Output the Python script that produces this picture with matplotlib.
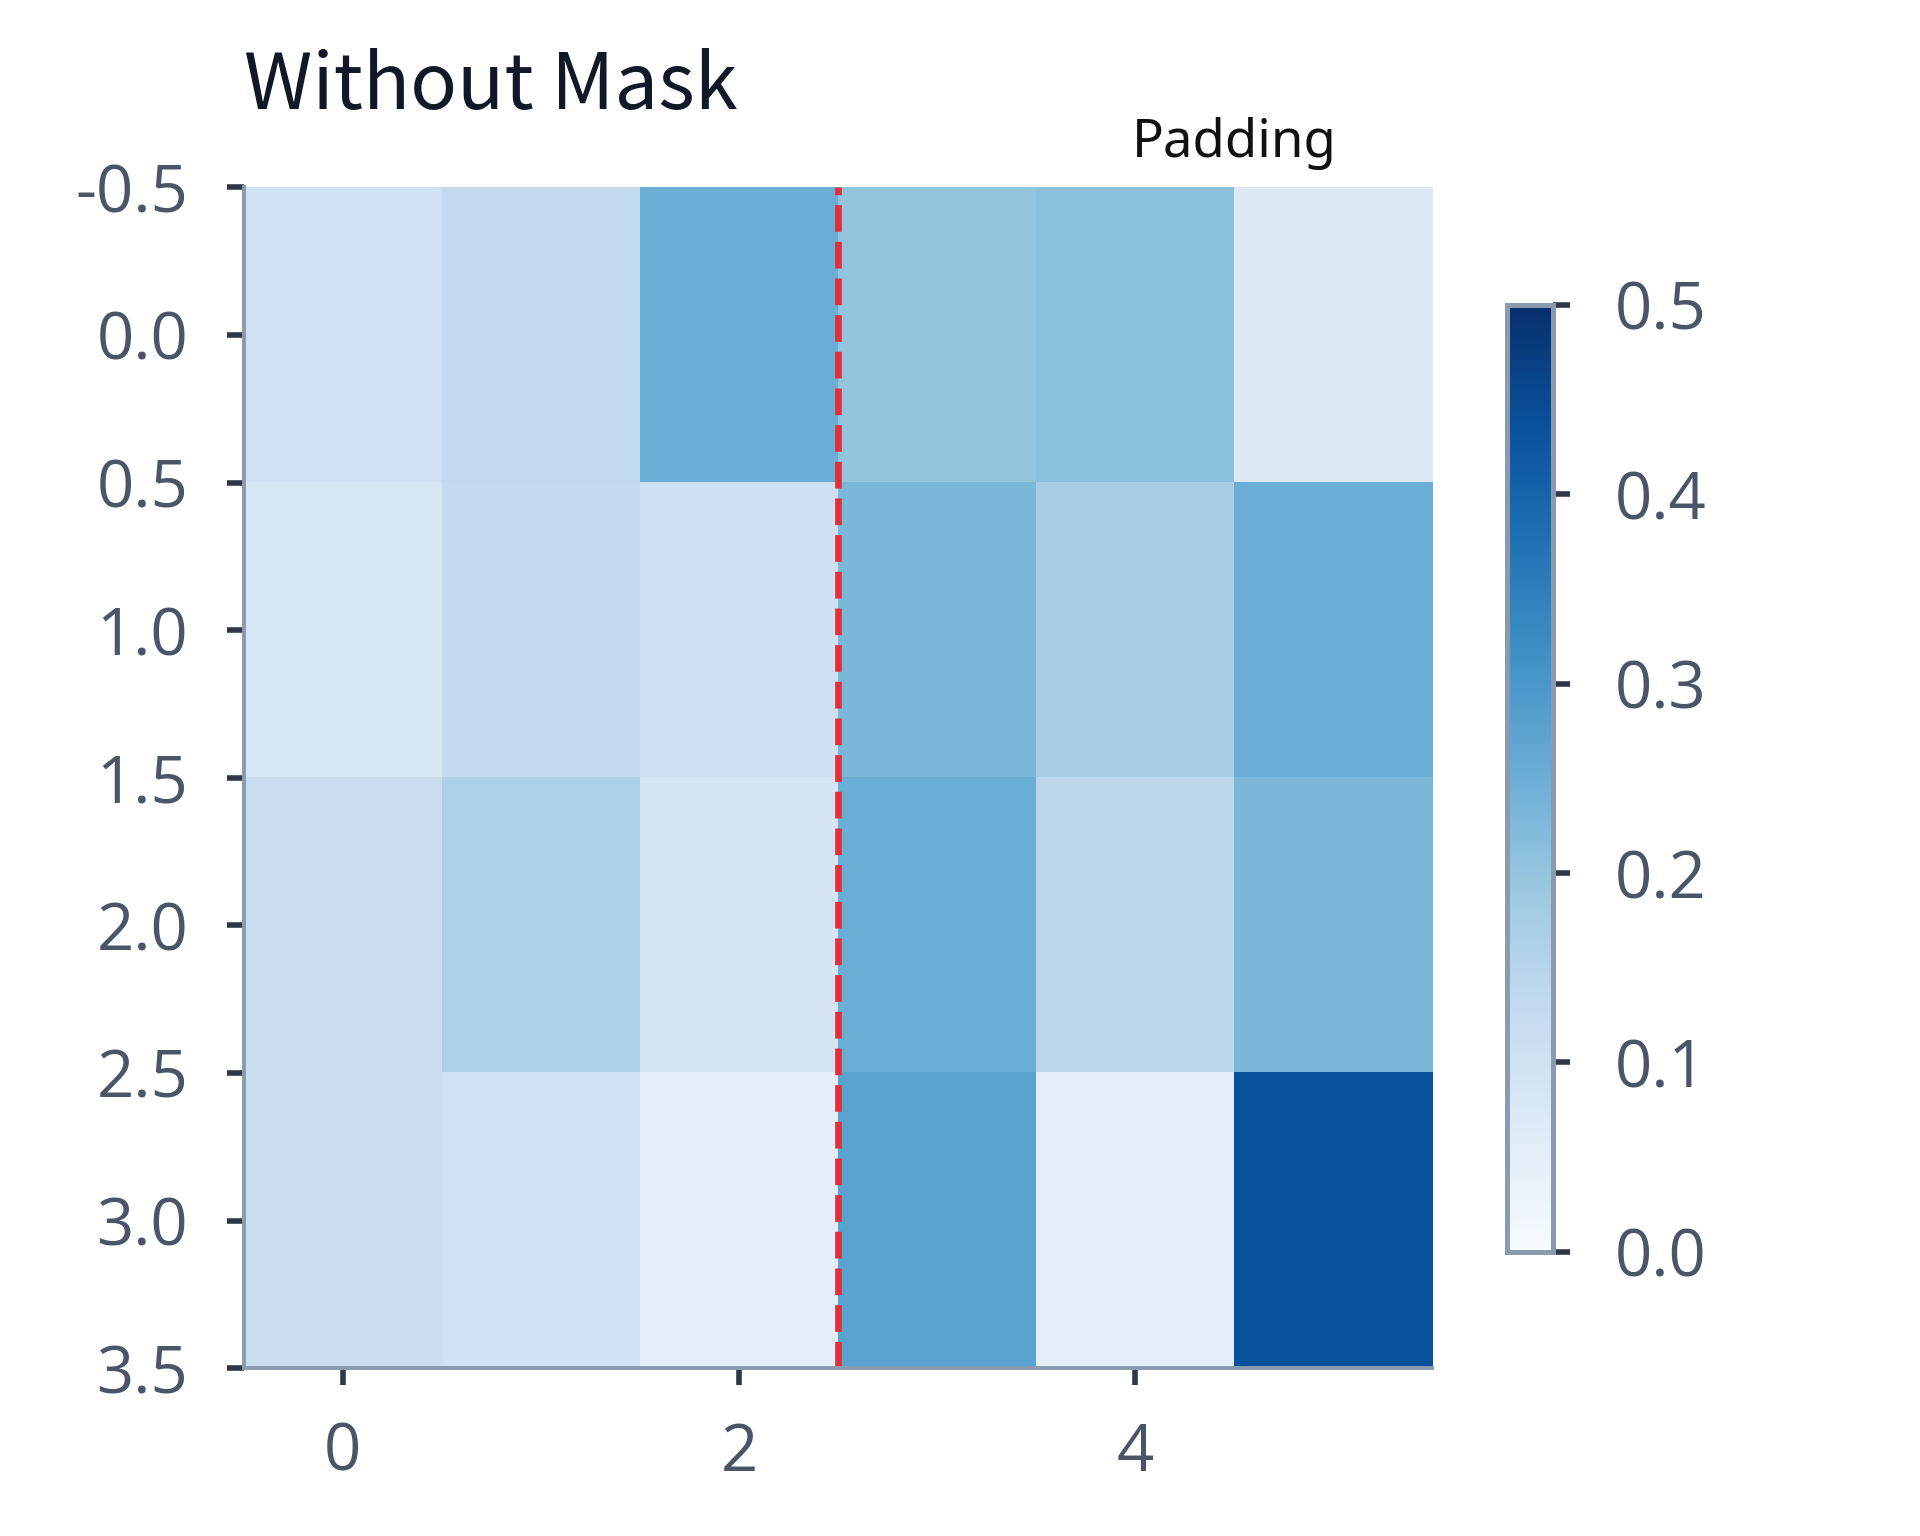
import matplotlib.pyplot as plt
import numpy as np

# attention weights (rows x key positions)
row0 = [0.100, 0.130, 0.250, 0.200, 0.210, 0.065]
row1 = [0.080, 0.125, 0.105, 0.230, 0.175, 0.250]
row2 = [0.115, 0.165, 0.085, 0.250, 0.140, 0.230]
row3 = [0.110, 0.100, 0.050, 0.275, 0.050, 0.435]
pad_start = 2.5
x_ticks = [0, 2, 4]
y_ticks = [-0.5, 0.0, 0.5, 1.0, 1.5, 2.0, 2.5, 3.0, 3.5]
cbar_ticks = [0.0, 0.1, 0.2, 0.3, 0.4, 0.5]

weights = np.array([row0, row1, row2, row3])

spine_col = '#8a9bb0'
tick_col = '#2d3748'
label_col = '#4a5568'
tick_font = ['Open Sans', 'DejaVu Sans']

fig = plt.figure(figsize=(9.6, 7.68), dpi=200)
ax = fig.add_axes([0.127, 0.1093, 0.619, 0.7687])
cax = fig.add_axes([0.785, 0.185, 0.024, 0.6166])

im = ax.imshow(weights, cmap='Blues', vmin=0, vmax=0.5, aspect='auto',
               interpolation='nearest')
ax.axvline(pad_start, color='#e0303a', linestyle=(0, (4, 1.5)), linewidth=2.4)

ax.set_xticks(x_ticks)
ax.set_yticks(y_ticks)
ax.set_yticklabels([f'{v:.1f}' for v in y_ticks])
ax.set_ylim(3.5, -0.5)
for s in ['top', 'right']:
    ax.spines[s].set_visible(False)
for s in ['left', 'bottom']:
    ax.spines[s].set_color(spine_col)
    ax.spines[s].set_linewidth(1.4)
ax.tick_params(axis='both', colors=tick_col, labelcolor=label_col,
               length=6, width=2.0, labelsize=23.5)
ax.tick_params(axis='y', pad=14)
ax.tick_params(axis='x', pad=13)
for lab in ax.get_xticklabels() + ax.get_yticklabels():
    lab.set_family(tick_font)

cb = fig.colorbar(im, cax=cax, ticks=cbar_ticks)
cb.outline.set_edgecolor(spine_col)
cb.outline.set_linewidth(1.8)
cax.tick_params(colors=tick_col, labelcolor=label_col, length=6,
                width=2.0, labelsize=23.5, pad=16)
for lab in cax.get_yticklabels():
    lab.set_family(tick_font)

fig.text(0.127, 0.929, 'Without Mask', fontsize=28,
         family=['Noto Sans CJK KR', 'DejaVu Sans'],
         color='#111827', ha='left', va='baseline')
fig.text(0.643, 0.898, 'Padding', fontsize=19, family='Noto Sans',
         color='#111111', ha='center', va='baseline')

fig.savefig('out.png', dpi=200, facecolor='white')
